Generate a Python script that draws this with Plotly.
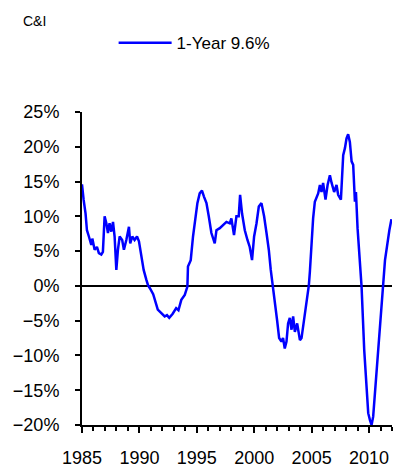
import plotly.graph_objects as go

# decimal years and 1-year growth (%)
years = [
    1985.0, 1985.03, 1985.14, 1985.31, 1985.43, 1985.6, 1985.81, 1985.9, 1986.1, 1986.3,
    1986.47, 1986.68, 1986.82, 1986.97, 1987.12, 1987.26, 1987.4, 1987.55, 1987.7, 1987.84,
    1987.99, 1988.13, 1988.28, 1988.5, 1988.65, 1988.86, 1989.09, 1989.2, 1989.38, 1989.58,
    1989.79, 1989.96, 1990.17, 1990.37, 1990.6, 1990.75, 1990.9, 1991.2, 1991.6, 1992.0,
    1992.2, 1992.4, 1992.6, 1992.9, 1993.2, 1993.4, 1993.65, 1993.95, 1994.1, 1994.18,
    1994.23, 1994.47, 1994.67, 1994.88, 1995.05, 1995.25, 1995.45, 1995.63, 1995.84, 1996.04,
    1996.27, 1996.56, 1996.71, 1997.0, 1997.28, 1997.58, 1997.87, 1998.01, 1998.24, 1998.45,
    1998.65, 1998.77, 1998.94, 1999.18, 1999.41, 1999.61, 1999.81, 1999.99, 2000.2, 2000.4,
    2000.63, 2000.86, 2001.07, 2001.27, 2001.44, 2001.64, 2001.79, 2001.99, 2002.17, 2002.37,
    2002.51, 2002.66, 2002.81, 2002.95, 2003.1, 2003.25, 2003.39, 2003.54, 2003.74, 2003.98,
    2004.12, 2004.27, 2004.41, 2004.56, 2004.76, 2004.85, 2004.99, 2005.13, 2005.28, 2005.43,
    2005.57, 2005.72, 2005.86, 2006.0, 2006.21, 2006.39, 2006.59, 2006.74, 2006.96, 2007.17,
    2007.31, 2007.55, 2007.66, 2007.75, 2007.9, 2008.04, 2008.18, 2008.33, 2008.48, 2008.62,
    2008.77, 2008.86, 2009.0, 2009.14, 2009.35, 2009.58, 2009.79, 2009.93, 2010.08, 2010.22,
    2010.36, 2010.57, 2010.8, 2011.04, 2011.24, 2011.39, 2011.63, 2011.77, 2011.95,
]
growth = [
    14.6, 14.0, 12.4, 10.4, 8.0, 7.1, 5.9, 6.8, 5.2, 5.6,
    4.7, 4.5, 4.9, 10.0, 9.0, 7.6, 9.0, 7.8, 9.2, 7.1,
    2.3, 5.2, 7.1, 6.6, 5.2, 6.6, 8.5, 6.1, 7.1, 6.6,
    7.1, 6.4, 4.2, 2.3, 0.9, 0.1, -0.3, -1.2, -3.4, -4.0,
    -4.4, -4.2, -4.6, -4.0, -3.2, -3.5, -2.0, -1.3, -0.6, -0.1,
    2.8, 3.7, 7.1, 9.5, 11.9, 13.3, 13.7, 12.8, 11.9, 10.0,
    7.6, 6.1, 8.0, 8.3, 8.8, 9.2, 9.0, 9.7, 7.3, 10.0,
    10.0, 13.1, 10.4, 8.0, 6.6, 5.6, 3.7, 7.1, 9.0, 11.4,
    11.9, 10.0, 7.6, 5.2, 2.3, -0.1, -2.0, -4.9, -7.5, -8.0,
    -7.5, -9.0, -8.0, -5.4, -4.6, -6.3, -4.4, -6.6, -5.4, -7.8,
    -7.5, -5.8, -4.4, -2.0, 0.1, 2.1, 6.4, 9.7, 12.1, 12.8,
    13.3, 14.5, 13.5, 14.8, 12.4, 14.5, 15.9, 14.8, 13.5, 14.5,
    13.1, 12.4, 16.4, 18.8, 19.8, 21.2, 21.8, 20.7, 17.9, 17.4,
    12.1, 13.5, 8.3, 4.9, -0.1, -9.2, -15.4, -18.3, -19.3, -20.0,
    -18.8, -14.5, -9.2, -3.9, 0.4, 3.7, 6.6, 8.0, 9.6,
]
series_name = "1-Year 9.6%"
x_ticks = [1985, 1990, 1995, 2000, 2005, 2010]

font = "Arial, Liberation Sans, sans-serif"

# the page adds an 8px body margin, so the figure is 8px smaller each way
W, H = 399, 462

fig = go.Figure(go.Scatter(
    x=years,
    y=growth,
    mode="lines",
    name=series_name,
    line=dict(color="#0000ff", width=2.5),
))

fig.update_layout(
    width=W,
    height=H,
    margin=dict(l=74, r=15, t=104, b=45),
    paper_bgcolor="white",
    plot_bgcolor="white",
    font=dict(family=font, size=18, color="black"),
    showlegend=True,
    legend=dict(x=0.102, y=1.22, xanchor="left", yanchor="middle",
                itemwidth=53, font=dict(size=17), bgcolor="rgba(0,0,0,0)"),
)

# chart label in the top-left corner
fig.add_annotation(
    text="C&I", xref="paper", yref="paper",
    x=(13 - 74) / 310, y=(417 - 3) / 313,
    xanchor="left", yanchor="top", showarrow=False,
    font=dict(size=14),
)

fig.update_xaxes(
    range=[1985, 2012],
    tickvals=x_ticks,
    ticks="outside", ticklen=6, tickwidth=2, tickcolor="black",
    minor=dict(dtick=1, ticks="outside", ticklen=4, tickwidth=2, tickcolor="black"),
    showline=True, linecolor="black", linewidth=2,
    showgrid=False, zeroline=False,
    ticklabelstandoff=9,
    automargin=False,
)
fig.update_yaxes(
    range=[-20, 25],
    dtick=5,
    ticksuffix="%",
    ticks="outside", ticklen=5, tickwidth=2, tickcolor="black",
    showline=True, linecolor="black", linewidth=2,
    showgrid=False,
    zeroline=True, zerolinecolor="black", zerolinewidth=2,
    ticklabelstandoff=12,
    automargin=False,
)

fig.write_html("out.html")
